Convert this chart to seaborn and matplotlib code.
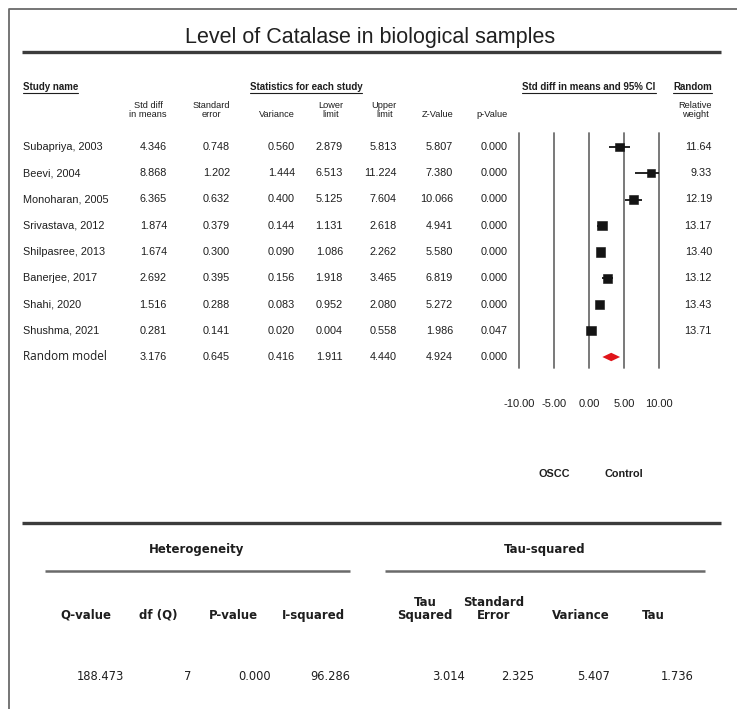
import matplotlib
matplotlib.use("Agg")
import matplotlib.pyplot as plt
import seaborn as sns
import pandas as pd
from matplotlib import transforms, font_manager
from matplotlib.lines import Line2D

# ---- data -------------------------------------------------------------
title = "Level of Catalase in biological samples"
studies = ["Subapriya, 2003", "Beevi, 2004", "Monoharan, 2005", "Srivastava, 2012",
           "Shilpasree, 2013", "Banerjee, 2017", "Shahi, 2020", "Shushma, 2021"]
std_diff = [4.346, 8.868, 6.365, 1.874, 1.674, 2.692, 1.516, 0.281]
std_err = [0.748, 1.202, 0.632, 0.379, 0.300, 0.395, 0.288, 0.141]
variance = [0.560, 1.444, 0.400, 0.144, 0.090, 0.156, 0.083, 0.020]
lower = [2.879, 6.513, 5.125, 1.131, 1.086, 1.918, 0.952, 0.004]
upper = [5.813, 11.224, 7.604, 2.618, 2.262, 3.465, 2.080, 0.558]
z_value = [5.807, 7.380, 10.066, 4.941, 5.580, 6.819, 5.272, 1.986]
p_value = [0.000, 0.000, 0.000, 0.000, 0.000, 0.000, 0.000, 0.047]
rel_weight = [11.64, 9.33, 12.19, 13.17, 13.40, 13.12, 13.43, 13.71]

pooled_label = "Random model"
pooled_values = [3.176, 0.645, 0.416, 1.911, 4.440, 4.924, 0.000]

axis_ticks = [-10, -5, 0, 5, 10]
favours = ["OSCC", "Control"]

het_labels = ["Q-value", "df (Q)", "P-value", "I-squared"]
het_values = ["188.473", "7", "0.000", "96.286"]
tau_labels = ["Tau\nSquared", "Standard\nError", "Variance", "Tau"]
tau_values = ["3.014", "2.325", "5.407", "1.736"]

col_headers = ["Std diff\nin means", "Standard\nerror", "Variance", "Lower\nlimit",
               "Upper\nlimit", "Z-Value", "p-Value"]

# ---- figure & helpers ---------------------------------------------------
sns.set_theme(style="white")
avail = {f.name for f in font_manager.fontManager.ttflist}
BASE = "Liberation Sans"
NARROW = "Liberation Sans Narrow" if "Liberation Sans Narrow" in avail else "DejaVu Sans"
plt.rcParams["font.family"] = [BASE, "DejaVu Sans"]

W, H = 737, 709
fig = plt.figure(figsize=(W / 100, H / 100), dpi=100)
fig.patch.set_facecolor("white")


def fx(px):
    return px / W


def fy(py):
    return 1 - py / H


def hline(x0, x1, y, color, lw):
    fig.add_artist(Line2D([fx(x0), fx(x1)], [fy(y), fy(y)], color=color, lw=lw,
                          solid_capstyle="butt"))


TXT = "#1e1e1e"
FS = 7.8

# outer frame (left and top edges)
fig.add_artist(Line2D([fx(9), fx(9), fx(737)], [fy(709), fy(9), fy(9)],
                      color="#6a6a6a", lw=1.3))

fig.text(fx(370), fy(38), title, ha="center", va="center", fontsize=15.5,
         color="#202020", family=[BASE])
hline(22, 721, 52, "#3c3c3c", 2.4)

# ---- forest axis --------------------------------------------------------
top_px, bot_px, row0_px, row_gap = 133, 368, 147, 26.25
ax = fig.add_axes([fx(519), fy(bot_px), (659 - 519) / W, (bot_px - top_px) / H])
ax.set_facecolor("none")

df = pd.DataFrame({"study": studies, "effect": std_diff, "lower": lower,
                   "upper": upper, "weight": rel_weight,
                   "row": list(range(len(studies)))})

for t in axis_ticks:
    ax.axvline(t, color="#6e6e6e", lw=1.3, zorder=1, clip_on=False)

ax.hlines(df["row"], df["lower"], df["upper"], color="#141414", lw=1.3, zorder=2)
sns.scatterplot(data=df, x="effect", y="row", size="weight", sizes=(34, 46),
                marker="s", color="#141414", edgecolor="#141414", linewidth=0.4,
                legend=False, ax=ax, zorder=3)

prow = len(studies)
est, lo, hi = pooled_values[0], pooled_values[3], pooled_values[4]
ax.fill([lo, est, hi, est], [prow, prow - 0.16, prow, prow + 0.16],
        color="#e0141a", zorder=3, lw=0)

ax.set_xlim(axis_ticks[0], axis_ticks[-1])
ax.set_ylim((bot_px - row0_px) / row_gap, (top_px - row0_px) / row_gap)
ax.set_xticks(axis_ticks)
ax.set_xticklabels([f"{t:.2f}" for t in axis_ticks], fontsize=8, color=TXT)
ax.tick_params(axis="x", length=0, pad=22.5)
ax.set_yticks([])
ax.set_xlabel("")
ax.set_ylabel("")
for s in ax.spines.values():
    s.set_visible(False)

favT = transforms.blended_transform_factory(ax.transData, fig.transFigure)
for lab, t in zip(favours, [-5, 5]):
    ax.text(t, fy(474), lab, transform=favT, ha="center", va="center",
            fontsize=7.8, fontweight="bold", color=TXT)

# ---- table text ---------------------------------------------------------
rowT = transforms.blended_transform_factory(fig.transFigure, ax.transData)
col_right = [167, 230, 295, 343, 397, 453, 508]
weight_right = 712

cols = [std_diff, std_err, variance, lower, upper, z_value, p_value]
for i, name in enumerate(studies):
    fig.text(fx(23), i, name, transform=rowT, ha="left", va="center",
             fontsize=FS, color=TXT)
    for xr, vals in zip(col_right, cols):
        fig.text(fx(xr), i, f"{vals[i]:.3f}", transform=rowT, ha="right",
                 va="center", fontsize=FS, color=TXT)
    fig.text(fx(weight_right), i, f"{rel_weight[i]:.2f}", transform=rowT,
             ha="right", va="center", fontsize=FS, color=TXT)

fig.text(fx(23), prow, pooled_label, transform=rowT, ha="left", va="center",
         fontsize=8.5, color=TXT, family=["Open Sans", BASE])
for xr, v in zip(col_right, pooled_values):
    fig.text(fx(xr), prow, f"{v:.3f}", transform=rowT, ha="right", va="center",
             fontsize=FS, color=TXT)

# column headers
for xr, lab in zip(col_right, col_headers):
    fig.text(fx(xr), fy(119), lab, ha="right", va="bottom", multialignment="center",
             fontsize=6.7, color=TXT, linespacing=1.05)
fig.text(fx(weight_right), fy(119), "Relative\nweight", ha="right", va="bottom",
         multialignment="center", fontsize=6.7, color=TXT, linespacing=1.05)

# underlined section headers
renderer = fig.canvas.get_renderer()
section = [("Study name", 23, "left"), ("Statistics for each study", 306, "center"),
           ("Std diff in means and 95% CI", 589, "center"), ("Random", 712, "right")]
for lab, x, ha in section:
    t = fig.text(fx(x), fy(87), lab, ha=ha, va="center", fontsize=7,
                 fontweight="bold", color=TXT)
    bb = t.get_window_extent(renderer).transformed(fig.transFigure.inverted())
    fig.add_artist(Line2D([bb.x0, bb.x1], [bb.y0 - 0.5 / H, bb.y0 - 0.5 / H],
                          color=TXT, lw=0.8))

# ---- heterogeneity / tau-squared panel ----------------------------------
hline(22, 721, 523, "#3c3c3c", 2.4)
HB = ["DejaVu Sans"]
fig.text(fx(197), fy(550), "Heterogeneity", ha="center", va="center",
         fontsize=8.5, fontweight="bold", color=TXT, family=HB)
fig.text(fx(545), fy(550), "Tau-squared", ha="center", va="center",
         fontsize=8.5, fontweight="bold", color=TXT, family=HB)
hline(45, 350, 571, "#6a6a6a", 1.8)
hline(385, 705, 571, "#6a6a6a", 1.8)

het_x = [86, 158, 233, 313]
tau_x = [425, 494, 581, 653]
for x, lab in zip(het_x + tau_x, het_labels + tau_labels):
    fig.text(fx(x), fy(622), lab, ha="center", va="bottom", multialignment="center",
             fontsize=8.5, fontweight="bold", color=TXT, family=HB, linespacing=1.0)

val_right = [124, 191, 271, 350, 465, 534, 610, 694]
for x, v in zip(val_right, het_values + tau_values):
    fig.text(fx(x), fy(677), v, ha="right", va="center", fontsize=8.3,
             color=TXT, family=[NARROW, "DejaVu Sans"])

fig.savefig("out.png", dpi=100, facecolor="white")
